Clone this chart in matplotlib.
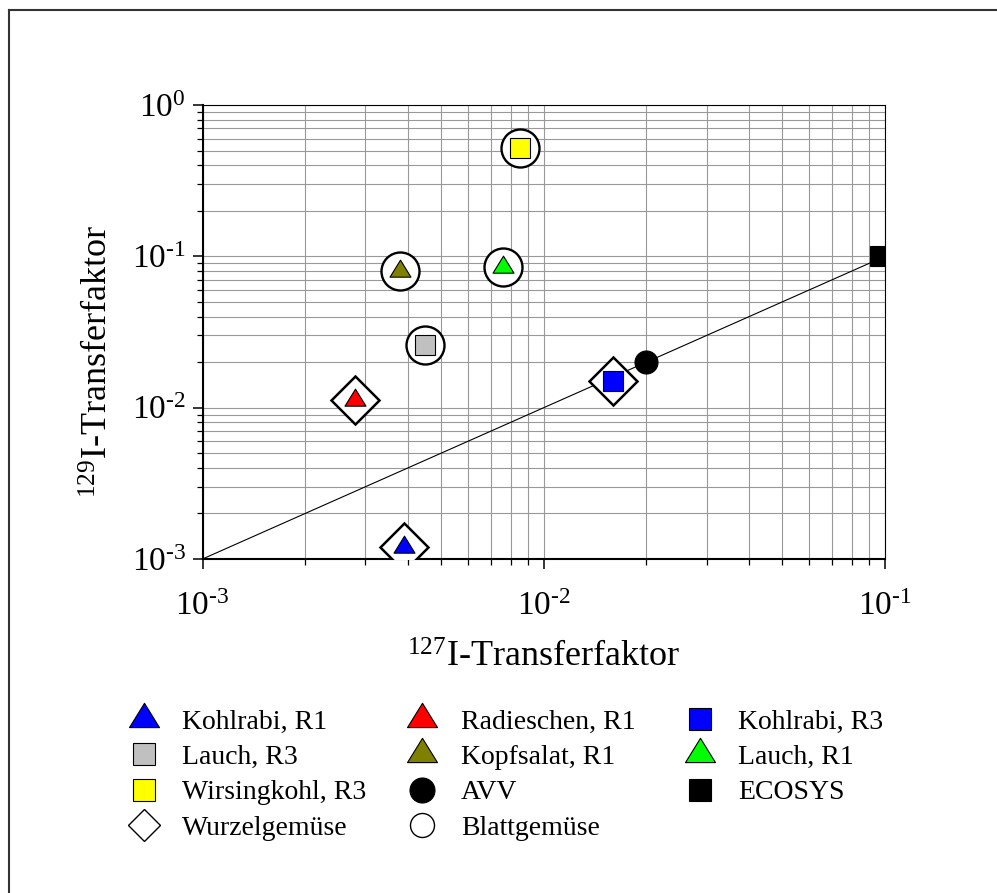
import numpy as np
import matplotlib
matplotlib.use("Agg")
import matplotlib.pyplot as plt
from matplotlib.lines import Line2D
from matplotlib.path import Path
from matplotlib.ticker import LogLocator, FixedLocator, FixedFormatter, NullFormatter

plt.rcParams['font.family'] = ['Liberation Serif', 'DejaVu Serif']
plt.rcParams['mathtext.fontset'] = 'custom'
plt.rcParams['mathtext.rm'] = 'Liberation Serif'
plt.rcParams['mathtext.it'] = 'Liberation Serif:italic'
plt.rcParams['mathtext.bf'] = 'Liberation Serif:bold'

# ---------------- data ----------------
labels = ["Kohlrabi, R1", "Radieschen, R1", "Kohlrabi, R3", "Lauch, R3",
          "Kopfsalat, R1", "Lauch, R1", "Wirsingkohl, R3", "AVV", "ECOSYS"]
x_127 = [0.0039, 0.0028, 0.016, 0.0045, 0.0038, 0.0076, 0.0085, 0.020, 0.097]
y_129 = [0.0012, 0.0112, 0.015, 0.026, 0.080, 0.085, 0.52, 0.020, 0.100]
colors = ["#0000FF", "#FF0000", "#0000FF", "#C0C0C0", "#808000",
          "#00FF00", "#FFFF00", "#000000", "#000000"]
shapes = ["tri", "tri", "s", "s", "tri", "tri", "s", "o", "s"]

wurzel = ["Kohlrabi, R1", "Radieschen, R1", "Kohlrabi, R3"]
blatt = ["Lauch, R3", "Kopfsalat, R1", "Lauch, R1", "Wirsingkohl, R3"]

line_x = [1e-3, 1e-1]
line_y = [1e-3, 1e-1]

xticks = [1e-3, 1e-2, 1e-1]
xtick_labels = ["-3", "-2", "-1"]
yticks = [1e-3, 1e-2, 1e-1, 1e0]
ytick_labels = ["-3", "-2", "-1", "0"]

xlabel = r"$\mathregular{^{127}}$I-Transferfaktor"
ylabel = r"$\mathregular{^{129}}$I-Transferfaktor"

# ---------------- figure ----------------
W, H = 997, 893
fig = plt.figure(figsize=(W / 100, H / 100), dpi=100)
fig.patch.set_facecolor("white")

# outer frame (top and left visible)
fig.add_artist(Line2D([9 / W, 1.0], [1 - 10 / H, 1 - 10 / H], color="#333333", lw=1.5))
fig.add_artist(Line2D([9 / W, 9 / W], [0.0, 1 - 10 / H], color="#333333", lw=1.5))

ax = fig.add_axes([202.5 / W, 1 - 559 / H, 682.5 / W, 454 / H])
ax.set_xscale("log")
ax.set_yscale("log")
ax.set_xlim(1e-3, 1e-1)
ax.set_ylim(1e-3, 1e0)

# triangle marker centred on centroid
tri = Path([(-1, -0.54), (1, -0.54), (0, 1.08), (-1, -0.54)],
           [Path.MOVETO, Path.LINETO, Path.LINETO, Path.CLOSEPOLY])
TRI_SCALE = 2 / 1.08 * 0.5  # width / markersize

def mk(shape):
    return tri if shape == "tri" else shape

px = 72 / 100  # points per pixel

# grid
ax.grid(True, which="both", color="#999999", lw=0.8)
ax.set_axisbelow(True)

# y = x line
ax.plot(line_x, line_y, color="black", lw=0.8, zorder=2)

# group markers
for name in wurzel:
    i = labels.index(name)
    ax.plot(x_127[i], y_129[i], marker="D", ms=24, mfc="white", mec="black",
            mew=1.8, ls="none", zorder=3)
for name in blatt:
    i = labels.index(name)
    ax.plot(x_127[i], y_129[i], marker="o", ms=38 * px, mfc="white", mec="black",
            mew=1.7, ls="none", zorder=3)

# data markers
for i, name in enumerate(labels):
    s = shapes[i]
    if s == "tri":
        ms = 21 * px / TRI_SCALE
    elif s == "s":
        ms = 19.5 * px
    else:
        ms = 23 * px
    ax.plot(x_127[i], y_129[i], marker=mk(s), ms=ms, mfc=colors[i], mec="black",
            mew=0.8, ls="none", zorder=4, clip_on=True)

# ticks
ax.xaxis.set_major_locator(FixedLocator(xticks))
ax.yaxis.set_major_locator(FixedLocator(yticks))
ax.xaxis.set_major_formatter(FixedFormatter(
    [r"$\mathregular{10^{%s}}$" % t.replace("-", "\u2010") for t in xtick_labels]))
ax.yaxis.set_major_formatter(FixedFormatter(
    [r"$\mathregular{10^{%s}}$" % t.replace("-", "\u2010") for t in ytick_labels]))
ax.xaxis.set_minor_locator(LogLocator(base=10, subs=np.arange(2, 10), numticks=20))
ax.yaxis.set_minor_locator(LogLocator(base=10, subs=np.arange(2, 10), numticks=20))
ax.xaxis.set_minor_formatter(NullFormatter())
ax.yaxis.set_minor_formatter(NullFormatter())
ax.tick_params(which="major", direction="out", length=7, width=1.1, labelsize=24, pad=5)
ax.tick_params(axis="x", which="major", pad=16)
ax.tick_params(which="minor", direction="out", length=4.3, width=0.9)
ax.tick_params(top=False, right=False)

for side in ["left", "bottom"]:
    ax.spines[side].set_linewidth(1.5)
for side in ["top", "right"]:
    ax.spines[side].set_linewidth(0.8)

ax.set_xlabel(xlabel, fontsize=26)
ax.set_ylabel(ylabel, fontsize=26)
ax.xaxis.set_label_coords(0.5, (559 - 667) / 454)
ax.xaxis.label.set_va("baseline")
ax.yaxis.set_label_coords((108 - 202.5) / 682.5, (559 - 361.5) / 454)
ax.yaxis.label.set_va("baseline")

# ---------------- legend ----------------
def handle(i):
    s = shapes[i]
    if s == "tri":
        ms = 30 * px / TRI_SCALE
    elif s == "s":
        ms = 22 * px
    else:
        ms = 25 * px
    return Line2D([], [], marker=mk(s), ms=ms, mfc=colors[i], mec="black",
                  mew=0.8, ls="none")

h_wurzel = Line2D([], [], marker="D", ms=22 * px, mfc="white", mec="black", mew=1.0, ls="none")
h_blatt = Line2D([], [], marker="o", ms=24 * px, mfc="white", mec="black", mew=1.0, ls="none")

columns = [
    (["Kohlrabi, R1", "Lauch, R3", "Wirsingkohl, R3"], "Wurzelgemüse", h_wurzel, 130),
    (["Radieschen, R1", "Kopfsalat, R1", "AVV"], "Blattgemüse", h_blatt, 408.6),
    (["Kohlrabi, R3", "Lauch, R1", "ECOSYS"], None, None, 686),
]
for names, extra, eh, xpx in columns:
    hs = [handle(labels.index(n)) for n in names]
    ls = list(names)
    if extra is not None:
        hs.append(eh)
        ls.append(extra)
    leg = fig.legend(hs, ls, loc="upper left", bbox_to_anchor=(xpx / W, 1 - 709 / H),
                     frameon=False, fontsize=20, handlelength=1.0, handletextpad=0.885,
                     labelspacing=0.36, borderpad=0, borderaxespad=0, numpoints=1)

fig.savefig("out.png", dpi=100, facecolor="white")
